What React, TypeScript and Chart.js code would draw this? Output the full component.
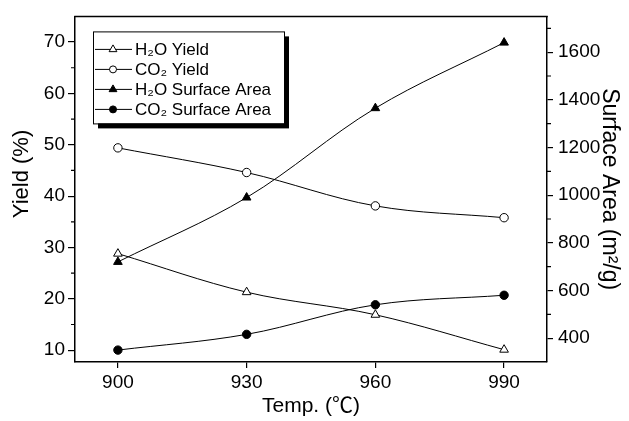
import React, { useEffect, useRef } from 'react';
import { Chart, registerables } from 'chart.js';

Chart.register(...registerables);

// ---- data ----
const temps = [900, 930, 960, 990];
const h2oYield = [28.8, 21.3, 16.9, 10.1];
const co2Yield = [49.4, 44.6, 38.1, 35.8];
const h2oArea = [720, 990, 1365, 1640];
const co2Area = [350, 416, 540, 580];

const xTicks = [900, 930, 960, 990];
const yieldTicks = [10, 20, 30, 40, 50, 60, 70];
const yieldMinor = [15, 25, 35, 45, 55, 65];
const areaTicks = [400, 600, 800, 1000, 1200, 1400, 1600];
const areaMinor = [500, 700, 900, 1100, 1300, 1500, 1700];

const legendLabels = ['H₂O Yield', 'CO₂ Yield', 'H₂O Surface Area', 'CO₂ Surface Area'];
const xTitle = 'Temp. (℃)';
const yTitle = 'Yield (%)';
const y1Title = 'Surface Area (m²/g)';

const FONT = "'Liberation Sans', Arial, 'Noto Sans CJK SC', sans-serif";

function drawMarker(ctx: CanvasRenderingContext2D, style: string, filled: boolean, x: number, y: number, r: number) {
  ctx.beginPath();
  if (style === 'triangle') {
    let rad = 0;
    ctx.moveTo(x + Math.sin(rad) * r, y - Math.cos(rad) * r);
    rad += (2 * Math.PI) / 3;
    ctx.lineTo(x + Math.sin(rad) * r, y - Math.cos(rad) * r);
    rad += (2 * Math.PI) / 3;
    ctx.lineTo(x + Math.sin(rad) * r, y - Math.cos(rad) * r);
    ctx.closePath();
  } else {
    ctx.arc(x, y, r, 0, Math.PI * 2);
  }
  ctx.fillStyle = filled ? '#000' : '#fff';
  ctx.fill();
  ctx.lineWidth = 1;
  ctx.strokeStyle = '#000';
  ctx.stroke();
}

const extrasPlugin = {
  id: 'extras',
  afterDraw(chart: any) {
    const { ctx, chartArea: ca, scales } = chart;
    ctx.save();
    ctx.strokeStyle = '#000';
    // top frame line
    ctx.lineWidth = 1.5;
    ctx.beginPath();
    ctx.moveTo(ca.left - 0.75, ca.top);
    ctx.lineTo(ca.right + 0.75, ca.top);
    ctx.stroke();
    // minor ticks
    ctx.lineWidth = 1.2;
    ctx.beginPath();
    yieldMinor.forEach((v) => {
      const y = scales.y.getPixelForValue(v);
      ctx.moveTo(ca.left - 4, y);
      ctx.lineTo(ca.left, y);
    });
    areaMinor.forEach((v) => {
      const y = scales.y1.getPixelForValue(v);
      ctx.moveTo(ca.right, y);
      ctx.lineTo(ca.right + 4, y);
    });
    ctx.stroke();

    // left axis title
    ctx.save();
    ctx.translate(28, 174);
    ctx.rotate(-Math.PI / 2);
    ctx.font = `22px ${FONT}`;
    ctx.fillStyle = '#000';
    ctx.textAlign = 'center';
    ctx.textBaseline = 'alphabetic';
    ctx.fillText(yTitle, 0, 0);
    ctx.restore();

    // legend
    const bx = ca.left + 18;
    const by = ca.top + 15;
    const bw = 191;
    const bh = 92;
    ctx.fillStyle = '#000';
    ctx.fillRect(bx + 5, by + 5, bw, bh);
    ctx.fillStyle = '#fff';
    ctx.fillRect(bx, by, bw, bh);
    ctx.lineWidth = 1;
    ctx.strokeRect(bx + 0.5, by + 0.5, bw, bh);

    const styles = [
      { s: 'triangle', f: false, r: 4.5 },
      { s: 'circle', f: false, r: 3.5 },
      { s: 'triangle', f: true, r: 4.5 },
      { s: 'circle', f: true, r: 3.5 },
    ];
    ctx.font = `17px ${FONT}`;
    ctx.textBaseline = 'middle';
    ctx.textAlign = 'left';
    legendLabels.forEach((lab, i) => {
      const y = by + 18 + i * 20;
      ctx.beginPath();
      ctx.lineWidth = 1;
      ctx.strokeStyle = '#000';
      ctx.moveTo(bx + 2, y);
      ctx.lineTo(bx + 39, y);
      ctx.stroke();
      drawMarker(ctx, styles[i].s, styles[i].f, bx + 20, y, styles[i].r);
      ctx.fillStyle = '#000';
      ctx.fillText(lab, bx + 42, y + 1);
    });
    ctx.restore();
  },
};

export default function App() {
  const ref = useRef<HTMLCanvasElement | null>(null);

  useEffect(() => {
    document.body.style.margin = '0';
    const canvas = ref.current;
    if (!canvas) return;

    const mk = (vals: number[]) => temps.map((t, i) => ({ x: t, y: vals[i] }));
    const base = {
      borderColor: '#000',
      borderWidth: 1,
      pointBorderColor: '#000',
      pointBorderWidth: 1,
      tension: 0.35,
      clip: false as any,
    };
    const tickFont = { family: FONT, size: 19 };

    const chart = new Chart(canvas, {
      type: 'line',
      data: {
        datasets: [
          { ...base, label: legendLabels[0], data: mk(h2oYield), yAxisID: 'y', pointStyle: 'triangle', pointRadius: 5, pointBackgroundColor: '#fff' },
          { ...base, label: legendLabels[1], data: mk(co2Yield), yAxisID: 'y', pointStyle: 'circle', pointRadius: 4.2, pointBackgroundColor: '#fff' },
          { ...base, label: legendLabels[2], data: mk(h2oArea), yAxisID: 'y1', pointStyle: 'triangle', pointRadius: 5, pointBackgroundColor: '#000' },
          { ...base, label: legendLabels[3], data: mk(co2Area), yAxisID: 'y1', pointStyle: 'circle', pointRadius: 4.2, pointBackgroundColor: '#000' },
        ],
      },
      options: {
        animation: false,
        responsive: false,
        maintainAspectRatio: false,
        events: [],
        layout: { padding: { top: 10, left: 0, right: 0, bottom: 0 } },
        plugins: { legend: { display: false }, tooltip: { enabled: false } },
        scales: {
          x: {
            type: 'linear',
            position: 'bottom',
            min: 890,
            max: 1000,
            afterBuildTicks: (s: any) => {
              s.ticks = xTicks.map((v) => ({ value: v }));
            },
            afterFit: (s: any) => {
              s.height = 59;
            },
            grid: { drawOnChartArea: false, drawTicks: true, tickLength: 6, color: '#000', lineWidth: 1.2 },
            border: { display: true, color: '#000', width: 1.5 },
            ticks: { color: '#000', font: tickFont, padding: 3, maxRotation: 0, autoSkip: false, callback: (v: any) => String(v) },
            title: { display: true, text: xTitle, color: '#000', font: { family: FONT, size: 21 }, padding: { top: 0, bottom: 2 } },
          },
          y: {
            type: 'linear',
            position: 'left',
            min: 7.7,
            max: 75,
            afterBuildTicks: (s: any) => {
              s.ticks = yieldTicks.map((v) => ({ value: v }));
            },
            afterFit: (s: any) => {
              s.width = 75;
            },
            grid: { drawOnChartArea: false, drawTicks: true, tickLength: 7, color: '#000', lineWidth: 1.2 },
            border: { display: true, color: '#000', width: 1.5 },
            ticks: { color: '#000', font: tickFont, padding: 3, autoSkip: false, callback: (v: any) => String(v) },
            title: { display: false },
          },
          y1: {
            type: 'linear',
            position: 'right',
            min: 300,
            max: 1750,
            afterBuildTicks: (s: any) => {
              s.ticks = areaTicks.map((v) => ({ value: v }));
            },
            afterFit: (s: any) => {
              s.width = 82;
            },
            grid: { drawOnChartArea: false, drawTicks: true, tickLength: 6, color: '#000', lineWidth: 1.2 },
            border: { display: true, color: '#000', width: 1.5 },
            ticks: { color: '#000', font: tickFont, padding: 5, autoSkip: false, callback: (v: any) => String(v) },
            title: { display: true, text: y1Title, color: '#000', font: { family: FONT, size: 23 }, padding: { top: 6, bottom: 0 } },
          },
        },
      },
      plugins: [extrasPlugin],
    });

    return () => chart.destroy();
  }, []);

  return (
    <div style={{ position: 'fixed', left: 0, top: 0, width: 629, height: 421, background: '#fff' }}>
      <canvas ref={ref} width={629} height={421} style={{ width: 629, height: 421, display: 'block' }} />
    </div>
  );
}
